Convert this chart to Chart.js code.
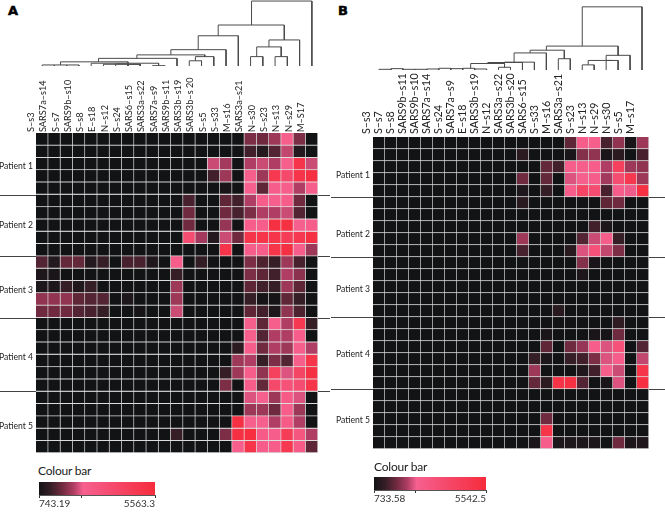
<!DOCTYPE html>
<html>
<head>
<meta charset="utf-8">
<script src="https://cdn.jsdelivr.net/npm/chart.js@4"></script>
<style>
  body { margin: 0; background: #fff; }
  canvas, .txt { position: absolute; }
  .txt { font-family: Lato, sans-serif; color: #222; white-space: nowrap; }
  .title { font-size: 12px; letter-spacing: -0.2px; }
  .letter { font: bold 13px "DejaVu Sans", sans-serif; color: #000; -webkit-text-stroke: 0.5px #000; }
</style>
</head>
<body>
<div class="txt letter" style="left:8px;top:3px">A</div>
<div class="txt letter" style="left:338px;top:3px">B</div>
<canvas id="treeA" width="292" height="66" style="left:36px;top:0"></canvas>
<canvas id="heatA" width="330" height="390" style="left:0;top:72px"></canvas>
<div class="txt title" style="left:38px;top:463px">Colour bar</div>
<canvas id="barA" width="150" height="28" style="left:25px;top:480px"></canvas>
<canvas id="treeB" width="285" height="70" style="left:373px;top:0"></canvas>
<canvas id="heatB" width="334" height="390" style="left:331px;top:72px"></canvas>
<div class="txt title" style="left:374px;top:459px">Colour bar</div>
<canvas id="barB" width="150" height="28" style="left:360px;top:475px"></canvas>
<script>
const labelsA = ['S–s3', 'SARS7a–s14', 'S–s7', 'SARS9b–s10', 'S–s8', 'E–s18', 'N–s12', 'S–s24', 'SARS6–s15',
  'SARS3a–s22', 'SARS7a–s9', 'SARS9b–s11', 'SARS3b–s19', 'SARS3b–s 20', 'S–s5', 'S–s33', 'M–s16', 'SARS3a–s21',
  'N–s30', 'S–s23', 'N–s13', 'N–s29', 'M–S17'];
const labelsB = ['S–s3', 'S–s7', 'S–s8', 'SARS9b–s11', 'SARS9b–s10', 'SARS7a–s14', 'S–s24', 'SARS7a–s9', 'E–s18',
  'SARS3b–s19', 'N–s12', 'SARS3a–s22', 'SARS3b–s20', 'SARS6–s15', 'S–s33', 'M–s16', 'SARS3a–s21', 'S–s23',
  'N–s13', 'N–s29', 'N–s30', 'S–s5', 'M–s17'];

const patients = ['Patient 1', 'Patient 2', 'Patient 3', 'Patient 4', 'Patient 5'];
// row numbers: where the patient names sit and where each patient ends
const patientRowsA = [2.68, 7.48, 12.76, 18.2, 23.8];
const patientRowsB = [3.15, 8.07, 12.67, 18.1, 23.6];
const patientEnds = [5, 10, 15, 21];

// cell values, as % along the colour bar
const cellsA = [
  [0,0,0,0,0,0,0,0,0,0,0,0,0,0,0,0,0,22,20,27,40,22,0],
  [0,0,0,0,0,0,0,0,0,0,0,0,0,0,0,0,0,12,5,15,32,5,0],
  [0,0,0,0,0,0,0,0,0,0,0,0,0,0,33,28,0,30,33,30,40,90,33],
  [0,0,0,0,0,0,0,0,0,0,0,0,0,0,12,27,0,40,27,85,65,90,95],
  [0,0,0,0,0,0,0,0,0,0,0,0,0,0,0,2,0,38,17,42,42,30,42],
  [0,0,0,0,0,0,0,0,0,0,0,0,13,0,0,17,12,30,42,38,42,20,0],
  [0,0,0,0,0,0,0,0,0,0,0,0,20,0,0,20,13,22,30,30,33,15,0],
  [0,0,0,0,0,0,0,0,0,0,0,0,20,0,0,26,0,42,42,95,95,38,42],
  [0,0,0,0,0,0,0,0,0,0,0,0,60,28,5,33,20,90,90,90,80,85,95],
  [0,0,0,0,0,0,0,0,0,0,0,0,0,0,0,90,0,42,42,90,95,42,27],
  [15,5,18,18,5,10,0,13,13,4,0,42,0,9,0,0,0,22,14,10,27,13,0],
  [3,2,0,0,0,0,0,0,0,0,0,10,0,0,0,0,0,22,17,12,30,24,0],
  [3,3,10,4,10,0,0,0,0,0,0,27,0,0,0,0,0,17,12,10,27,17,0],
  [25,25,25,17,15,15,0,3,0,0,0,27,0,0,0,0,0,10,1,1,17,10,0],
  [20,20,20,15,13,10,0,0,1,0,0,33,0,0,0,0,0,17,12,3,25,14,0],
  [0,0,0,0,0,0,0,0,0,0,0,0,0,0,0,0,0,40,17,40,30,85,10],
  [0,0,0,0,0,0,0,0,0,0,0,0,0,0,0,0,0,40,15,30,30,42,0],
  [0,0,0,0,0,0,0,0,0,0,0,0,0,0,0,0,7,42,20,30,27,40,30],
  [0,0,0,0,0,0,0,0,0,0,0,0,0,0,0,0,27,30,10,22,15,40,90],
  [0,0,0,0,0,0,0,0,0,0,0,0,0,0,0,10,27,42,25,75,35,70,95],
  [0,0,0,0,0,0,0,0,0,0,0,0,0,0,0,22,0,42,18,65,55,60,90],
  [0,0,0,0,0,0,0,0,0,0,0,0,0,0,0,0,0,35,38,27,45,35,0],
  [0,0,0,0,0,0,0,0,0,0,0,0,0,0,0,0,0,27,27,20,42,27,0],
  [0,0,0,0,0,0,0,0,0,0,0,0,0,0,0,0,95,40,38,30,45,30,0],
  [0,0,0,0,0,0,0,0,0,0,0,10,0,0,0,22,95,98,45,42,80,50,30],
  [0,0,0,0,0,0,0,0,0,0,0,0,0,0,0,0,40,90,42,42,85,45,17]
];
const cellsB = [
  [0,0,0,0,0,0,0,0,0,0,0,0,0,0,0,0,17,42,40,13,25,2,27],
  [0,0,0,0,0,0,0,0,0,0,0,0,7,0,0,0,2,23,25,2,7,0,13],
  [0,0,0,0,0,0,0,0,0,0,0,0,0,0,18,12,42,40,42,30,75,27,25],
  [0,0,0,0,0,0,0,0,0,0,0,0,20,0,18,0,35,38,42,28,60,85,27],
  [0,0,0,0,0,0,0,0,0,0,0,0,3,0,10,0,42,70,60,13,42,37,95],
  [0,0,0,0,0,0,0,0,0,0,0,0,6,0,0,0,0,0,0,17,20,0,0],
  [0,0,0,0,0,0,0,0,0,0,0,0,0,0,0,0,0,0,0,0,0,0,0],
  [0,0,0,0,0,0,0,0,0,0,0,0,0,0,0,0,0,0,12,3,0,0,0],
  [0,0,0,0,0,0,0,0,0,0,0,0,27,0,0,0,0,15,33,42,10,0,0],
  [0,0,0,0,0,0,0,0,0,0,0,0,13,0,0,0,6,35,55,32,22,0,0],
  [0,0,0,0,0,0,0,0,0,0,0,0,0,0,0,0,0,23,2,0,0,0,0],
  [0,0,0,0,0,0,0,0,0,0,0,0,0,0,0,0,0,3,0,0,0,0,0],
  [0,0,0,0,0,0,0,0,0,0,0,0,0,0,0,0,0,0,0,0,0,0,0],
  [0,0,0,0,0,0,0,0,0,0,0,0,0,0,0,0,0,0,0,0,0,0,0],
  [0,0,0,0,0,0,0,0,0,0,0,0,0,0,0,6,0,0,0,0,0,0,0],
  [0,0,0,0,0,0,0,0,0,0,0,0,0,0,0,0,0,0,0,0,8,0,0],
  [0,0,0,0,0,0,0,0,0,0,0,0,0,0,2,0,0,0,2,1,20,0,0],
  [0,0,0,0,0,0,0,0,0,0,0,0,0,0,17,0,20,26,42,35,55,0,15],
  [0,0,0,0,0,0,0,0,0,0,0,0,0,10,3,0,10,12,22,35,42,0,32],
  [0,0,0,0,0,0,0,0,0,0,0,0,0,27,0,0,0,4,12,40,33,0,90],
  [0,0,0,0,0,0,0,0,0,0,0,0,0,18,7,92,95,15,0,2,35,0,95],
  [0,0,0,0,0,0,0,0,0,0,0,0,0,0,0,0,0,0,0,0,0,0,0],
  [0,0,0,0,0,0,0,0,0,0,0,0,0,0,0,0,0,0,0,0,0,0,0],
  [0,0,0,0,0,0,0,0,0,0,0,0,0,0,20,0,0,0,0,0,0,0,0],
  [0,0,0,0,0,0,0,0,0,0,0,0,0,0,90,0,0,0,0,0,0,0,0],
  [0,0,0,0,0,0,0,0,0,0,0,0,0,2,42,3,3,3,3,0,20,3,4]
];

// dendrogram merges: [left column, right column, height, left child height, right child height]
const mergesA = [
  [0,1,3,0,0], [1,2,3,0,0], [2,3,3,0,0],
  [6,7,6,0,0], [7,8,5,0,0], [5,8,5,0,0], [9,10,1,0,0],
  [4,9.5,8,0,1], [1.5,7,12,3,8], [4.6,11,22,12,0],
  [12,13,15,0,0], [12.5,14,27,15,0], [7.73,13.27,32,22,27],
  [10.5,15,47,32,0], [12.73,16,87,47,0],
  [17,18,27,0,0], [19,20,27,0,0], [17.5,19.5,55,27,27], [18.5,21,75,55,0],
  [14.36,19.75,118,87,75], [17.08,22,187,118,0]
];
const mergesB = [
  [0,1,2,0,0], [1,2,4,0,0], [2,3,2,0,0], [3,4,2,0,0], [4,5,3,0,0], [5,6,5,0,0], [6,7,4,0,0], [7,8,5,0,0], [8,9,3,0,0],
  [10,11,8,0,0], [7.67,10.5,19,5,8], [9.1,12,22,19,0], [10.5,13,23,22,0], [11.3,14,50,23,0],
  [15,16,33,0,0], [12.64,15.5,58,50,33],
  [17,18,15,0,0], [19,20,28,0,0], [17.5,19.5,28,15,28], [19,21,43,28,0],
  [14,20,70,58,43], [17,22,185,70,0]
];

const colourStops = [0, 0.1, 0.2, 0.3, 0.38, 0.6, 1];
const colourRgb = [[18,19,21], [54,30,38], [112,42,64], [176,62,100], [246,96,143], [245,77,114], [246,44,60]];

function cellColour(pct) {
  const t = pct / 100;
  let i = 0;
  while (i < colourStops.length - 2 && t > colourStops[i + 1]) i++;
  const f = (t - colourStops[i]) / (colourStops[i + 1] - colourStops[i]);
  const c = colourRgb[i].map((v, k) => Math.round(v + (colourRgb[i + 1][k] - v) * f));
  return 'rgb(' + c.join(',') + ')';
}

function drawTree(id, merges, maxHeight) {
  const points = [];
  merges.forEach(m => {
    points.push({ x: m[0], y: m[3] }, { x: m[0], y: m[2] }, { x: m[1], y: m[2] }, { x: m[1], y: m[4] }, { x: NaN, y: NaN });
  });
  new Chart(document.getElementById(id), {
    type: 'scatter',
    data: { datasets: [{ data: points, showLine: true, spanGaps: false, pointRadius: 0, borderColor: '#4a4a4a', borderWidth: 1, clip: false }] },
    options: {
      responsive: false,
      animation: false,
      layout: { padding: { right: 10 } },
      plugins: { legend: { display: false }, tooltip: { enabled: false } },
      scales: {
        x: { display: false, min: -0.5, max: 22.5 },
        y: { display: false, min: 0, max: maxHeight }
      }
    }
  });
}

const patientDividers = {
  id: 'patientDividers',
  afterDatasetsDraw(chart) {
    const { ctx, chartArea, scales } = chart;
    ctx.save();
    ctx.strokeStyle = '#444';
    ctx.lineWidth = 1;
    patientEnds.forEach(row => {
      const y = Math.round(scales.y.getPixelForValue(row)) + 0.5;
      ctx.beginPath();
      ctx.moveTo(0, y);
      ctx.lineTo(chartArea.left, y);
      ctx.moveTo(chartArea.right, y);
      ctx.lineTo(chart.width, y);
      ctx.stroke();
    });
    ctx.restore();
  }
};

function drawHeat(id, labels, cells, patientRows, sizes) {
  new Chart(document.getElementById(id), {
    type: 'bar',
    data: {
      labels: labels,
      datasets: cells.map(row => ({
        data: row.map(() => 1),
        backgroundColor: row.map(cellColour),
        borderColor: '#dcdcdc',
        borderWidth: { right: 1, bottom: 1 },
        borderSkipped: false,
        barPercentage: 1,
        categoryPercentage: 1
      }))
    },
    options: {
      responsive: false,
      animation: false,
      layout: { padding: { right: sizes.right, bottom: sizes.bottom } },
      plugins: { legend: { display: false }, tooltip: { enabled: false } },
      scales: {
        x: {
          position: 'top',
          stacked: true,
          grid: { display: false, drawTicks: false },
          border: { display: false },
          ticks: {
            autoSkip: false, minRotation: 90, maxRotation: 90, padding: sizes.labelGap,
            color: '#222', font: { family: 'Lato', size: sizes.labelSize }
          },
          afterFit(scale) { scale.height = sizes.top; }
        },
        y: {
          stacked: true,
          reverse: true,
          min: 0,
          max: cells.length,
          grid: { display: false, drawTicks: false },
          border: { display: false },
          afterBuildTicks(scale) { scale.ticks = patientRows.map(v => ({ value: v })); },
          afterFit(scale) { scale.width = sizes.left; },
          ticks: {
            autoSkip: false, padding: 3, color: '#222', font: { family: 'Lato', size: 8.6 },
            callback: value => patients[patientRows.indexOf(value)]
          }
        }
      }
    },
    plugins: [patientDividers]
  });
}

function drawColourBar(id, lowest, middle, highest, sizes) {
  new Chart(document.getElementById(id), {
    type: 'bar',
    data: {
      labels: ['Colour bar'],
      datasets: [{
        data: [[lowest, highest]],
        barPercentage: 1,
        categoryPercentage: 1,
        backgroundColor(context) {
          const area = context.chart.chartArea;
          if (!area) return '#121315';
          const g = context.chart.ctx.createLinearGradient(area.left, 0, area.right, 0);
          colourStops.forEach((s, i) => g.addColorStop(s, 'rgb(' + colourRgb[i].join(',') + ')'));
          return g;
        }
      }]
    },
    options: {
      indexAxis: 'y',
      responsive: false,
      animation: false,
      layout: { padding: { left: sizes.left, right: sizes.right, top: sizes.top } },
      plugins: { legend: { display: false }, tooltip: { enabled: false } },
      scales: {
        y: { display: false },
        x: {
          min: lowest,
          max: highest,
          border: { color: '#555' },
          grid: { drawOnChartArea: false, tickLength: 3, color: '#333' },
          afterBuildTicks(scale) { scale.ticks = [lowest, middle, highest].map(v => ({ value: v })); },
          ticks: {
            align: 'inner', autoSkip: false, maxRotation: 0, padding: 0, color: '#333',
            font: { family: 'Lato', size: 10 },
            callback: value => (value === middle ? '' : String(value))
          }
        }
      }
    }
  });
}

drawTree('treeA', mergesA, 190);
drawTree('treeB', mergesB, 205);
drawHeat('heatA', labelsA, cellsA, patientRowsA, { left: 36, right: 12, top: 61, bottom: 9, labelGap: 1, labelSize: 9.2 });
drawHeat('heatB', labelsB, cellsB, patientRowsB, { left: 42, right: 16, top: 65, bottom: 13, labelGap: 3, labelSize: 10.7 });
drawColourBar('barA', 743.19, 2526, 5563.3, { left: 14, right: 20, top: 2 });
drawColourBar('barB', 733.58, 2522, 5542.5, { left: 14, right: 24, top: 2 });
</script>
</body>
</html>
